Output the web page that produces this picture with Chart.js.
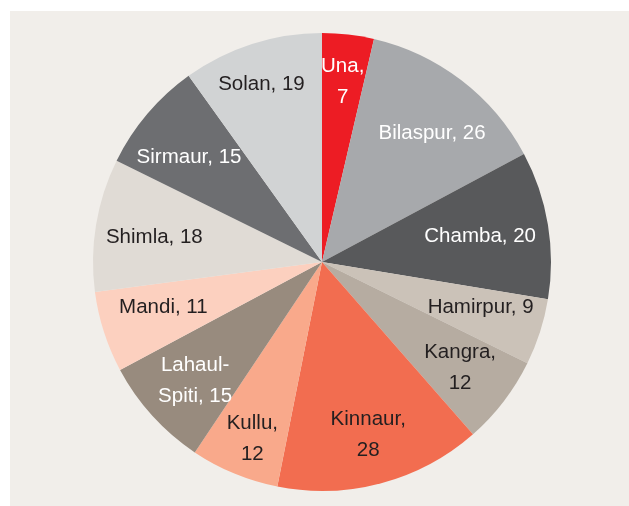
<!DOCTYPE html>
<html>
<head>
<meta charset="utf-8">
<script src="https://cdn.jsdelivr.net/npm/chart.js@4/dist/chart.umd.min.js"></script>
<style>
html,body{margin:0;padding:0;background:#ffffff;}
#wrap{width:629px;height:506px;position:relative;}
</style>
</head>
<body>
<div id="wrap"><canvas id="c" width="629" height="506"></canvas></div>
<script>
const categories = ["Una","Bilaspur","Chamba","Hamirpur","Kangra","Kinnaur","Kullu","Lahaul-Spiti","Mandi","Shimla","Sirmaur","Solan"];
const values = [7,26,20,9,12,28,12,15,11,18,15,19];
const sliceColors = ["#ed1c24","#a7a9ac","#58595b","#cbc2b8","#b6aca1","#f26d50","#f9a98b","#988b7e","#fcd0bf","#e0dbd5","#6d6e71","#d1d3d4"];
const labelLines = [["Una,","7"],["Bilaspur, 26"],["Chamba, 20"],["Hamirpur, 9"],["Kangra,","12"],["Kinnaur,","28"],["Kullu,","12"],["Lahaul-","Spiti, 15"],["Mandi, 11"],["Shimla, 18"],["Sirmaur, 15"],["Solan, 19"]];
const labelColors = ["#ffffff","#ffffff","#ffffff","#231f20","#231f20","#231f20","#231f20","#ffffff","#231f20","#231f20","#ffffff","#231f20"];
const labelRadius = [0.79,0.74,0.70,0.72,0.76,0.78,0.83,0.76,0.72,0.74,0.74,0.82];
const labelAngleShift = [0,3,0,-2,0,0,-1,-1,2,-1,-2,-1];

const bgPlugin = {
  id:'bg',
  beforeDraw(chart){
    const ctx = chart.ctx;
    ctx.save();
    ctx.fillStyle = '#ffffff';
    ctx.fillRect(0,0,chart.width,chart.height);
    ctx.fillStyle = '#f1eeea';
    ctx.fillRect(10,11,chart.width-10,chart.height-11);
    ctx.restore();
  }
};

const labelPlugin = {
  id:'sliceLabels',
  afterDatasetsDraw(chart){
    const ctx = chart.ctx;
    const meta = chart.getDatasetMeta(0);
    ctx.save();
    ctx.font = '20.5px "Liberation Sans", Arial, Helvetica, sans-serif';
    ctx.textAlign = 'center';
    ctx.textBaseline = 'middle';
    meta.data.forEach((arc,i)=>{
      const p = arc.getProps(['x','y','startAngle','endAngle','outerRadius'],true);
      const mid = (p.startAngle+p.endAngle)/2 + labelAngleShift[i]*Math.PI/180;
      const r = p.outerRadius*labelRadius[i];
      const cx = p.x + Math.cos(mid)*r;
      const cy = p.y + Math.sin(mid)*r;
      const lines = labelLines[i];
      const lh = 31;
      ctx.fillStyle = labelColors[i];
      lines.forEach((t,k)=>{
        ctx.fillText(t, cx, cy + (k-(lines.length-1)/2)*lh);
      });
    });
    ctx.restore();
  }
};

new Chart(document.getElementById('c'),{
  type:'pie',
  data:{
    labels:categories,
    datasets:[{data:values,backgroundColor:sliceColors,borderWidth:0}]
  },
  options:{
    responsive:false,
    animation:false,
    layout:{padding:{top:33,bottom:15,left:93,right:78}},
    plugins:{legend:{display:false},tooltip:{enabled:false}}
  },
  plugins:[bgPlugin,labelPlugin]
});
</script>
</body>
</html>
